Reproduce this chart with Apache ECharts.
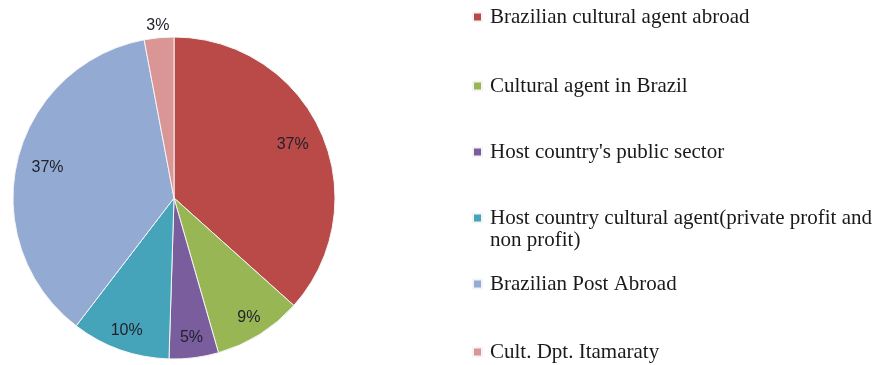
<!DOCTYPE html>
<html>
<head>
<meta charset="utf-8">
<script src="https://cdn.jsdelivr.net/npm/echarts@6/dist/echarts.min.js"></script>
<style>
  html, body { margin: 0; padding: 0; background: #ffffff; }
  #chart { width: 887px; height: 365px; }
</style>
</head>
<body>
<div id="chart"></div>
<script>
// Funding sources, share of total (%)
const categories = [
  'Brazilian cultural agent abroad',
  'Cultural agent in Brazil',
  "Host country's public sector",
  'Host country cultural agent(private profit and non profit)',
  'Brazilian Post Abroad',
  'Cult. Dpt. Itamaraty'
];
const shares = [37, 9, 5, 10, 37, 3];
const sliceColors = ['#B94A47', '#98B754', '#7A5D9D', '#45A4BA', '#93AAD3', '#D99694'];

const center = [174, 198];
const R = 161;

const pieData = categories.map((name, i) => ({ name, value: shares[i] }));
const pctLabel = p => p.value + '%';
const labelFont = { fontFamily: 'Liberation Sans', fontSize: 16, color: '#22222e' };

const chart = echarts.init(document.getElementById('chart'), null, { renderer: 'canvas' });

const legendText = { fontFamily: 'Liberation Serif', fontSize: 21, color: '#1a1a1a', lineHeight: 22 };

// One legend per entry so each row can sit at its own height
const legendRows = [17, 86, 152, 218, 284, 352];
const legends = categories.map((name, i) => {
  const twoLine = i === 3;
  return {
    data: [name],
    left: 472,
    top: legendRows[i] - (twoLine ? 33 : 11),
    padding: 0,
    orient: 'vertical',
    itemWidth: 9,
    itemHeight: 9,
    itemGap: 0,
    icon: 'rect',
    selectedMode: false,
    // the wrapped entry gets an empty spacer line on top so the marker lines up with its first line
    formatter: twoLine
      ? '{s| }\n{t|Host country cultural agent(private profit and}\n{t|non profit)}'
      : '{name}',
    textStyle: Object.assign({
      padding: [0, 0, 0, 3],
      rich: {
        s: { fontSize: 10, lineHeight: 22, height: 22 },
        t: Object.assign({}, legendText)
      }
    }, legendText)
  };
});

// Transparent ring that only carries the percentage labels
const labelRing = (radius, shownIdx) => ({
  type: 'pie',
  center: center,
  radius: radius,
  startAngle: 90,
  clockwise: true,
  silent: true,
  data: pieData.map((d, i) => ({ name: d.name, value: d.value,
    label: { show: shownIdx.includes(i) } })),
  itemStyle: { color: 'rgba(0,0,0,0)', borderWidth: 0 },
  label: Object.assign({ position: 'inside', formatter: pctLabel }, labelFont),
  labelLine: { show: false },
  emphasis: { disabled: true },
  tooltip: { show: false },
  z: 3
});

chart.setOption({
  animation: false,
  color: sliceColors,
  legend: legends,
  series: [
    {
      type: 'pie',
      center: center,
      radius: [0, R],
      startAngle: 90,
      clockwise: true,
      data: pieData,
      itemStyle: { borderColor: '#f4f4f4', borderWidth: 1 },
      label: { show: false },
      labelLine: { show: false },
      emphasis: { scale: false }
    },
    labelRing([96, 158], [0, 4]),
    labelRing([116, 160], [1, 2, 3]),
    labelRing([160, 180], [5])
  ]
});
</script>
</body>
</html>
